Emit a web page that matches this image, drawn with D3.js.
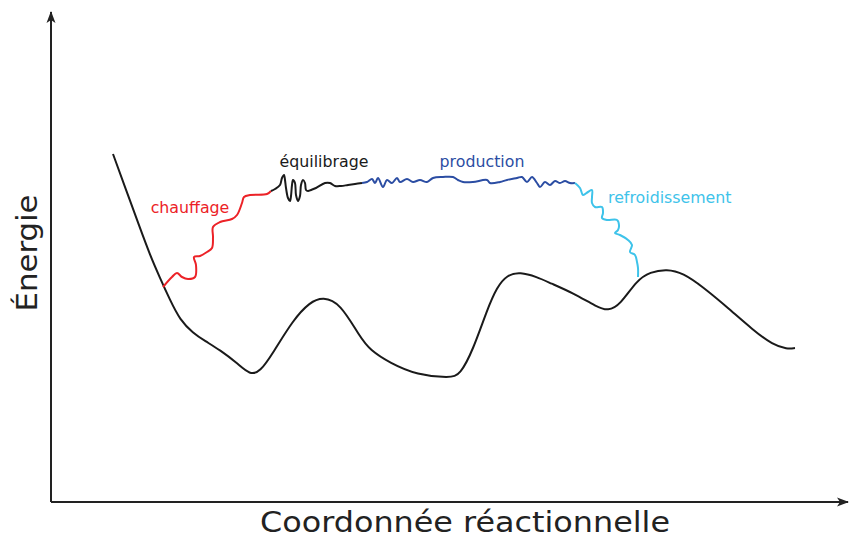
<!DOCTYPE html>
<html>
<head>
<meta charset="utf-8">
<script src="https://cdn.jsdelivr.net/npm/d3@7"></script>
<style>
  body { margin: 0; background: #fff; }
  text { font-family: "DejaVu Sans", sans-serif; }
</style>
</head>
<body>
<svg id="chart" width="850" height="538"></svg>
<script>
// energy landscape (reaction coordinate, energy) - arbitrary units
const landscape = [
  [62,348],[74,315],[89,274],[99,247],[109,224],[119,202],[129,182],[142,169],[154,161],
  [169,152],[186,139],[199,127],[209,130],[222,149],[242,182],[259,200],[272,205],[289,199],
  [309,165],[319,152],[339,139],[366,127],[399,124],[409,127],[422,152],[436,192],[446,215],
  [456,227],[469,230],[486,225],[499,219],[522,209],[546,195],[557,191],[569,197],[586,222],
  [599,230],[616,233],[632,229],[652,215],[676,195],[702,172],[722,157],[736,153],[744,154]
];

// simulation stages
const heating = [
  [112,215],[121,225],[126,229],[131,225],[137,223],[144,225],[145,237],[143,245],[149,246],
  [156,250],[161,254],[162,265],[162,275],[169,280],[181,283],[186,287],[191,299],[193,305],
  [199,307],[216,308],[220,311]
];
const equilibration = [
  [220,311],[224,313],[229,317],[231,324],[233,327],[234,322],[235,314],[237,304],[239,301],
  [240,306],[241,317],[242,322],[244,319],[245,307],[247,301],[249,306],[250,317],[252,322],
  [254,319],[255,312],[257,311],[260,312],[265,314],[274,319],[279,319],[284,316],[290,316],
  [297,317],[304,318],[311,319]
];
const production = [
  [311,319],[316,320],[321,323],[324,319],[327,324],[332,315],[336,322],[341,319],[346,324],
  [349,320],[356,323],[362,320],[369,322],[376,320],[382,324],[392,325],[402,325],[407,322],
  [412,320],[422,320],[436,322],[439,319],[449,320],[456,322],[466,324],[471,325],[476,320],
  [481,325],[486,319],[489,315],[494,320],[499,317],[504,321],[509,319],[514,321],[519,319],
  [524,319]
];
const cooling = [
  [524,319],[529,314],[532,307],[537,310],[541,312],[541,305],[541,299],[544,295],[551,295],
  [552,289],[551,284],[556,282],[566,282],[568,277],[567,272],[564,269],[569,267],[577,262],
  [581,257],[579,250],[584,247],[586,240],[587,234],[587,225]
];

const stageNames = ["chauffage", "équilibrage", "production", "refroidissement"];
const stageColors = ["#ec2227", "#1a1a1a", "#2b4da3", "#3ec3ea"];
// label anchor point per stage
const labelX = [139, 273, 431, 557];
const labelY = [289, 335, 335, 299];
const labelAnchor = ["middle", "middle", "middle", "start"];

const xTitle = "Coordonnée réactionnelle";
const yTitle = "Énergie";

const svg = d3.select("#chart");

const x = d3.scaleLinear().domain([0, 797]).range([51, 848]);
const y = d3.scaleLinear().domain([0, 490]).range([502, 12]);

//arrow marker
svg.append("defs").append("marker")
  .attr("id", "arrow")
  .attr("viewBox", "0 -5 12 10")
  .attr("refX", 11)
  .attr("refY", 0)
  .attr("markerWidth", 12)
  .attr("markerHeight", 10)
  .attr("markerUnits", "userSpaceOnUse")
  .attr("orient", "auto")
  .append("path")
  .attr("d", "M0,-4.5L12,0L0,4.5L3,0Z")
  .attr("fill", "#222");

//axes
svg.append("line")
  .attr("x1", x(0)).attr("y1", y(0))
  .attr("x2", x(0)).attr("y2", y(490))
  .attr("stroke", "#222").attr("stroke-width", 2)
  .attr("marker-end", "url(#arrow)");

svg.append("line")
  .attr("x1", x(0)).attr("y1", y(0))
  .attr("x2", x(797)).attr("y2", y(0))
  .attr("stroke", "#222").attr("stroke-width", 2)
  .attr("marker-end", "url(#arrow)");

//smooth curve for the landscape, wiggly one for the stages
const smoothLine = d3.line()
  .x(d => x(d[0]))
  .y(d => y(d[1]))
  .curve(d3.curveBasis);

const line = d3.line()
  .x(d => x(d[0]))
  .y(d => y(d[1]))
  .curve(d3.curveCatmullRom.alpha(0.5));

svg.append("path")
  .attr("d", smoothLine(landscape))
  .attr("fill", "none")
  .attr("stroke", "#1a1a1a")
  .attr("stroke-width", 2);

const stages = [heating, equilibration, production, cooling];
stages.forEach((pts, i) => {
  svg.append("path")
    .attr("d", line(pts))
    .attr("fill", "none")
    .attr("stroke", stageColors[i])
    .attr("stroke-width", 2)
    .attr("stroke-linejoin", "round");
});

svg.selectAll(".stageLabel")
  .data(stageNames)
  .enter()
  .append("text")
  .attr("class", "stageLabel")
  .attr("x", (d, i) => x(labelX[i]))
  .attr("y", (d, i) => y(labelY[i]))
  .attr("text-anchor", (d, i) => labelAnchor[i])
  .attr("fill", (d, i) => stageColors[i])
  .style("font-size", "15.8px")
  .text(d => d);

//axis titles
svg.append("text")
  .attr("x", 465)
  .attr("y", 532)
  .attr("text-anchor", "middle")
  .attr("fill", "#222")
  .attr("textLength", 410)
  .attr("lengthAdjust", "spacingAndGlyphs")
  .style("font-size", "28px")
  .text(xTitle);

svg.append("text")
  .attr("transform", "translate(37,253) rotate(-90)")
  .attr("text-anchor", "middle")
  .attr("fill", "#222")
  .attr("textLength", 117)
  .attr("lengthAdjust", "spacingAndGlyphs")
  .style("font-size", "29px")
  .text(yTitle);
</script>
</body>
</html>
